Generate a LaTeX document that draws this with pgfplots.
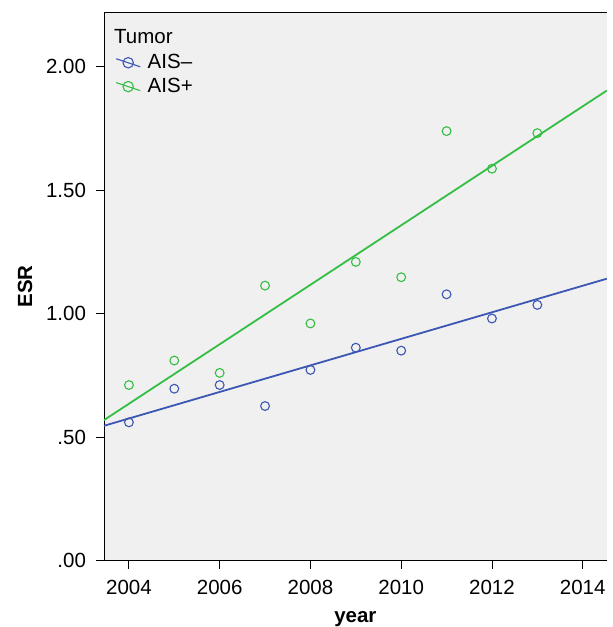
\documentclass[border=0pt]{standalone}
\usepackage{pgfplots}
\pgfplotsset{compat=1.18}
\usepackage{fontspec}
\setmainfont{Liberation Sans}
\definecolor{aisneg}{RGB}{60,86,180}
\definecolor{aispos}{RGB}{52,190,68}
\definecolor{panel}{RGB}{240,240,240}
\pgfplotsset{fitlegend/.style={legend image code/.code={
  \draw[##1,mark=none] (-12pt,4pt) -- (12pt,-4pt);
  \path[##1,mark size=5.2pt] plot coordinates {(0pt,0pt)};
  \path (17pt,0pt);
}}}
\begin{document}
\fontsize{20.5}{24}\selectfont
\begin{tikzpicture}
\begin{axis}[
  scale only axis,
  width=503pt, height=549pt,
  xmin=2003.45, xmax=2014.53,
  ymin=0, ymax=2.22,
  axis background/.style={fill=panel},
  axis lines=left,
  axis line style={-, line width=0.9pt},
  tick align=outside,
  major tick length=8pt,
  tick style={black, line width=0.9pt},
  xtick={2004,2006,...,2014},
  xticklabel style={/pgf/number format/1000 sep={}, yshift=-4pt},
  ytick={0,0.5,1,1.5,2},
  yticklabels={.00,.50,1.00,1.50,2.00},
  yticklabel style={xshift=-3pt},
  /pgf/number format/assume math mode=true,
  xlabel={\textbf{year}},
  ylabel={\textbf{ESR}},
  xlabel style={at={(axis description cs:0.5,0)}, anchor=base, inner sep=0pt, yshift=-62pt},
  ylabel style={at={(axis description cs:-0.1431,0.5)}, anchor=base, inner sep=0pt},
  legend style={at={(axis description cs:0.0169,0.931)}, anchor=north west,
    draw=none, fill=none, row sep=2.5pt, font=\fontsize{20.5}{24}\selectfont,
    cells={anchor=west}},
  fitlegend,
]
% fitted lines (least squares of the points below)
\addplot[aisneg, line width=1.8pt, forget plot] coordinates {(2003.45,0.546) (2014.53,1.141)};
\addplot[aispos, line width=1.8pt, forget plot] coordinates {(2003.45,0.569) (2014.53,1.902)};

\addplot[aisneg, only marks, mark=o, mark size=4.4pt, line width=1.1pt, mark options={line width=1.1pt}] coordinates {
(2004,0.560) (2005,0.696) (2006,0.711) (2007,0.626) (2008,0.772)
(2009,0.862) (2010,0.850) (2011,1.078) (2012,0.980) (2013,1.035)
};
\addlegendentry{AIS–}
\addplot[aispos, only marks, mark=o, mark size=4.4pt, line width=1.1pt, mark options={line width=1.1pt}] coordinates {
(2004,0.711) (2005,0.810) (2006,0.760) (2007,1.113) (2008,0.960)
(2009,1.209) (2010,1.147) (2011,1.738) (2012,1.586) (2013,1.730)
};
\addlegendentry{AIS+}

\node[anchor=base west, inner sep=0pt] at (axis description cs:0.02,0.943) {Tumor};
\coordinate (bl) at (rel axis cs:0,0);
\coordinate (tl) at (rel axis cs:0,1);
\coordinate (tr) at (rel axis cs:1,1);
\end{axis}
\draw[line width=0.9pt] (tl) -- (tr);
\useasboundingbox (bl) ++(-104pt,-66pt) rectangle ([yshift=12pt]tr);
\end{tikzpicture}
\end{document}
